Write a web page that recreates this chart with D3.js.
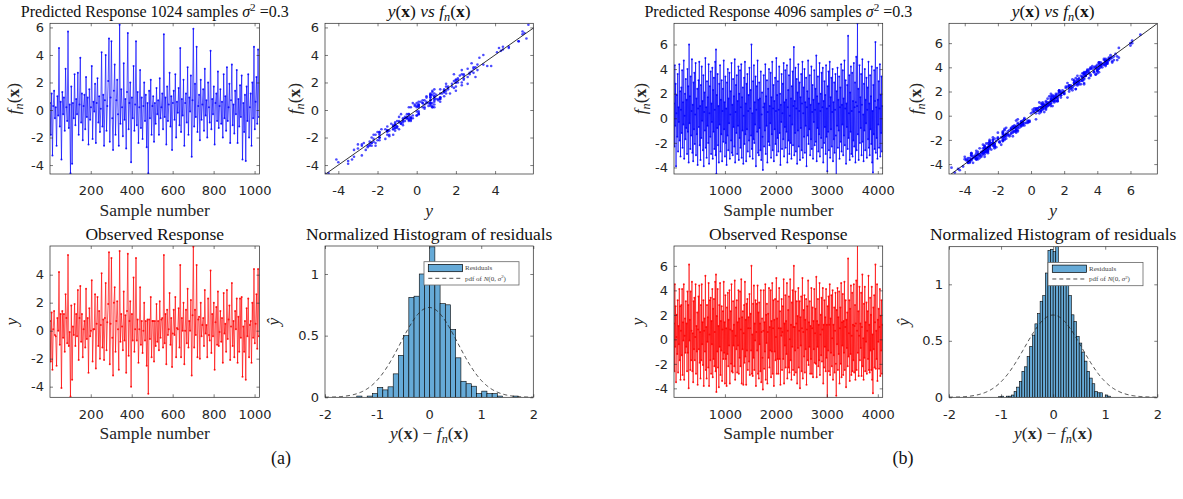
<!DOCTYPE html>
<html>
<head>
<meta charset="utf-8">
<script src="https://cdn.jsdelivr.net/npm/d3@7"></script>
<style>
  body { margin: 0; background: #fff; }
</style>
</head>
<body>
<script>
// noise variance used for the reference pdf
const sigma2 = 0.3;

// (a) 1024 samples, every 4th sample
const stepA = 4;
const predA = [
  0.5,-1.8,1.2,-3.3,0.3,1.4,-0.6,0.2,-2.6,1.0,-0.4,4.5,-1.2,0.6,-3.6,1.3,
  -0.3,0.9,-1.5,3.0,0.2,-0.8,5.7,-1.3,0.4,-4.6,1.7,-3.9,0.5,-0.6,2.6,-1.1,
  0.8,-0.3,2.7,-1.8,0.4,3.8,-0.9,1.2,-2.2,0.3,1.1,-1.4,2.4,-0.5,0.9,-2.5,
  1.5,-0.7,0.2,3.2,-2.1,0.6,-0.1,1.9,-2.4,0.5,2.3,-0.9,1.0,-1.6,0.1,4.2,
  -1.2,1.1,-2.6,0.7,4.0,-1.5,0.3,2.1,5.2,-2.3,0.9,5.0,-0.6,-2.9,1.4,3.3,
  -1.8,0.7,2.2,-0.3,-2.6,6.2,-1.0,1.5,0.2,-1.9,3.4,-0.7,0.8,-2.8,1.3,5.6,
  -1.4,0.5,2.0,-3.8,0.9,-0.6,3.2,-1.5,0.4,5.0,-1.1,1.3,-2.4,0.2,2.9,-1.3,
  0.9,-2.1,0.3,2.0,-0.8,1.1,-2.7,0.5,-4.6,1.4,-0.6,2.2,-1.8,0.3,1.0,-2.3,
  0.5,-1.0,1.6,-0.3,0.7,-1.8,2.3,-0.6,0.2,1.2,-1.4,5.5,-0.5,0.9,-2.5,1.7,
  -0.8,0.4,2.7,-1.2,1.0,-2.9,0.5,1.4,-0.7,2.6,-2.0,0.6,-0.2,1.6,-1.1,4.5,
  -1.6,0.8,-0.4,2.2,-2.6,0.5,1.2,-0.9,3.1,-1.8,0.9,-0.1,2.5,-3.4,0.7,5.9,
  -1.2,1.9,-0.5,4.6,-1.6,0.3,1.1,-2.2,2.2,-0.7,0.4,1.5,-1.5,3.0,-0.4,0.7,
  -2.0,2.0,0.2,-0.9,4.3,-1.4,0.8,-0.3,1.7,-2.5,0.5,1.2,-0.8,2.8,-1.3,0.3,
  1.5,-1.0,0.6,-2.0,2.6,-0.6,1.0,-1.5,3.1,-0.8,0.2,1.9,-2.4,0.7,3.3,-1.1,
  0.4,-1.7,1.4,-0.3,2.9,-2.4,0.8,-1.2,1.8,-0.5,2.5,-3.6,0.5,-1.6,1.1,-3.7,
  1.7,-0.8,2.6,-2.0,0.2,1.2,-2.6,2.0,-0.6,4.6,-1.4,0.6,2.4,-1.0,4.4,-0.5
];
// residuals y - f_n for the same samples
const resA = [
  0.2,-0.4,0.1,0.5,-0.2,0.0,0.3,-0.6,0.1,-0.1,0.4,-0.3,0.2,0.6,-0.5,0.1,
  -0.2,0.3,0.0,-0.4,0.7,-0.1,-0.3,0.2,-0.5,-0.1,0.1,0.4,-0.2,0.3,-0.7,0.0,
  0.4,-0.1,0.2,-0.3,0.5,-0.6,0.1,0.0,0.3,-0.2,-0.4,0.2,0.6,-0.1,0.0,-0.5,
  0.1,0.3,-0.2,0.4,-0.1,-0.5,0.2,0.7,-0.3,0.0,0.1,-0.2,0.4,-0.4,0.3,-0.1,
  0.0,-0.3,0.5,0.2,-0.6,0.1,0.3,-0.2,0.4,-0.1,-0.4,0.2,0.1,-0.3,0.6,-0.2,
  0.3,0.0,-0.1,0.4,-0.2,-0.5,0.2,-0.3,0.1,0.5,-0.6,0.0,0.3,-0.2,0.1,-0.1,
  -0.4,0.2,0.1,-0.2,0.3,-0.1,0.6,0.0,-0.3,0.2,0.4,-0.5,0.1,-0.1,0.2,0.3,
  -0.2,0.5,-0.3,0.0,0.1,-0.4,0.2,0.3,0.1,-0.6,0.0,0.2,-0.1,0.4,-0.3,0.1,
  0.2,-0.1,0.3,-0.5,0.0,0.4,-0.2,0.1,0.6,-0.3,0.2,-0.1,-0.4,0.3,0.1,-0.2,
  0.5,-0.3,0.0,0.2,-0.1,0.3,-0.7,0.1,0.4,-0.2,0.1,-0.4,0.3,0.0,-0.1,0.2,
  -0.3,0.1,0.4,-0.2,0.2,-0.5,0.3,0.0,-0.1,0.6,-0.2,0.1,-0.3,0.2,0.4,0.1,
  0.0,-0.4,0.2,0.1,-0.3,0.5,-0.1,0.2,-0.2,0.3,0.0,-0.6,0.4,-0.1,0.2,-0.3,
  0.1,0.3,-0.5,0.2,0.0,-0.2,0.4,-0.1,0.3,-0.3,0.1,0.5,-0.2,0.0,0.2,-0.4,
  -0.1,0.2,0.3,-0.3,0.1,0.4,-0.5,0.0,-0.2,0.2,0.6,-0.1,0.3,-0.4,0.1,0.0,
  0.3,-0.2,0.0,0.4,-0.6,0.1,0.2,-0.3,0.5,0.0,-0.1,0.3,-0.2,0.1,-0.4,0.2,
  -0.1,0.4,-0.3,0.1,0.2,-0.5,0.3,0.0,0.1,-0.2,0.5,-0.1,0.2,-0.3,0.0,0.1
];

// (b) 4096 samples, every 8th sample
const stepB = 8;
const predB = [
  1.2,-2.3,4.3,-0.6,2.8,-3.9,0.4,1.9,-1.5,3.6,-2.7,0.9,-0.3,4.4,-1.8,2.2,
  -3.1,0.7,2.5,-1.2,3.9,-2.4,1.3,-0.5,4.7,-3.3,0.2,2.0,-1.7,3.2,-0.8,1.5,
  -2.9,4.0,-1.1,2.6,-3.6,6.0,-0.4,1.8,-2.5,3.4,-1.4,0.6,4.8,-2.8,1.1,-3.5,
  2.9,-0.9,3.7,-2.1,0.3,4.5,-3.0,1.6,-1.3,2.4,-3.8,0.8,3.1,-0.7,4.6,-2.2,
  1.0,-3.4,2.7,-1.6,4.2,-0.2,1.4,-2.6,3.5,-3.9,0.5,2.1,-1.0,4.9,-2.4,0.9,
  -3.2,3.0,-0.6,1.7,-2.0,4.4,-3.7,0.4,2.6,-1.5,3.8,-2.9,1.2,-0.3,4.1,-3.3,
  2.3,-1.1,3.3,-2.5,0.7,4.6,-3.0,5.6,-4.5,1.9,-0.8,3.6,-2.2,1.0,-3.6,2.8,
  -0.5,4.3,-2.7,1.5,-1.3,3.1,-3.5,0.6,2.4,-1.9,4.7,-0.9,1.3,-3.1,3.4,-2.0,
  0.8,-3.8,2.9,-1.4,4.0,-2.6,1.6,-0.4,3.7,-3.3,0.3,2.2,-1.8,4.5,-2.8,1.1,
  -3.0,3.2,-0.7,1.8,-2.3,4.8,-3.6,0.5,2.7,-1.2,3.5,-2.9,1.4,-0.6,4.2,-3.4,
  2.0,-1.6,3.9,-2.4,0.9,4.4,-3.2,1.7,-1.0,2.5,-3.7,0.2,3.3,-2.1,4.6,-1.3,
  1.2,-3.5,2.8,-0.9,3.6,-2.7,0.6,1.9,-1.8,4.1,-3.1,0.8,2.3,-1.4,6.0,-2.5,
  0.4,-3.3,3.0,-1.7,4.3,-2.0,1.3,-0.5,3.4,-3.9,0.7,2.6,-1.1,4.7,-2.8,1.5,
  -3.0,2.9,-0.8,1.6,-2.6,3.8,-3.4,0.3,2.1,-1.5,-4.2,0.9,3.5,-2.3,1.2,-1.0,
  4.4,-2.9,1.8,-0.6,3.1,-3.6,0.5,2.4,-1.9,4.0,-2.2,1.0,-0.4,3.7,-3.2,1.7,
  -1.3,4.6,-2.6,0.8,2.7,-3.5,1.4,-0.9,3.3,-2.1,0.6,4.9,-3.0,1.9,-1.6,3.0,
  -2.7,0.7,4.2,-1.2,2.0,-3.8,1.1,-0.3,3.6,-2.5,0.4,2.8,-1.7,4.5,-3.1,1.3,
  -0.7,3.9,-2.4,1.5,-1.1,4.3,-3.6,0.9,2.3,-1.8,3.5,-2.9,0.2,4.8,-2.0,1.6,
  -3.3,2.6,-0.5,3.8,-2.2,1.0,5.8,-3.0,1.4,-1.2,4.1,-2.7,0.8,3.2,-3.7,2.1,
  -1.0,4.4,-2.3,0.6,2.9,-3.4,1.7,-0.8,3.6,-2.6,1.2,4.6,-3.2,0.4,2.5,-1.5,
  4.0,-2.8,1.3,-0.6,3.3,-3.9,0.9,2.2,-1.4,4.7,-2.1,1.6,-0.9,3.5,-3.0,1.1,
  -1.7,4.2,-2.5,0.5,2.7,-3.3,1.5,-0.3,3.9,-2.2,0.7,2.4,-1.9,5.1,-3.5,1.8,
  -0.8,3.4,-2.7,1.2,-1.3,4.5,-3.1,0.6,2.0,-1.6,3.7,-2.4,0.9,4.1,-3.6,1.4,
  -2.0,3.0,-0.7,1.9,-2.9,4.3,-1.5,0.8,-4.3,2.6,-1.1,3.8,-2.6,1.0,4.6,-3.2,
  1.7,-0.9,3.3,-2.3,0.5,4.0,-3.5,1.3,-1.7,2.9,-2.8,0.7,3.6,-1.4,-4.7,2.2,
  -0.6,4.1,-2.4,1.5,-1.0,3.4,-3.3,0.9,2.5,-1.9,4.4,-2.7,1.1,-0.5,3.9,-3.0,
  1.6,-1.4,4.7,-2.2,0.8,3.1,-3.7,1.2,-0.7,2.7,-2.5,6.7,-1.6,0.4,3.5,-3.4,
  2.1,-1.1,4.2,-2.9,0.6,3.7,-3.1,1.4,-1.8,4.5,-2.3,0.9,2.9,-3.6,1.3,5.0,
  -2.6,1.0,7.7,-1.3,2.4,-3.4,0.5,4.3,-2.0,1.7,-0.8,3.6,-3.0,1.1,4.8,-1.9,
  0.3,-3.5,2.8,-1.0,4.0,-2.6,1.5,-0.4,3.3,-3.2,0.7,2.5,-1.7,4.6,-2.4,1.2,
  -3.0,3.5,-0.9,1.8,-2.1,4.2,-3.6,0.6,-4.4,2.7,-1.3,3.9,-2.5,1.4,6.2,-2.8,
  0.9,-1.6,4.1,-3.3,1.5,-0.5,3.0,-2.4,0.8,4.4,-3.1,1.9,-1.2,3.4,-2.7,1.0
];
const resB = [
  0.1,-0.3,0.2,0.0,-0.1,0.4,-0.2,0.1,0.3,-0.4,0.0,0.2,-0.1,-0.3,0.1,0.5,
  -0.2,0.0,0.3,-0.1,0.2,-0.5,0.1,0.4,-0.2,0.0,0.1,-0.3,0.6,-0.1,0.2,-0.2,
  0.3,-0.1,0.0,0.2,-0.4,0.1,0.3,-0.2,0.0,0.5,-0.3,0.1,-0.1,0.2,-0.6,0.0,
  0.2,0.1,-0.3,0.4,-0.1,0.0,0.2,-0.5,0.3,-0.2,0.1,0.0,0.4,-0.1,-0.2,0.3,
  -0.4,0.2,0.1,-0.1,0.3,-0.2,0.0,0.5,-0.3,0.1,0.2,-0.4,0.0,0.3,-0.1,0.1,
  0.0,-0.2,0.4,0.1,-0.3,0.2,-0.1,0.0,0.6,-0.2,-0.4,0.1,0.3,-0.1,0.0,0.2,
  0.2,-0.5,0.0,0.3,-0.1,0.1,0.4,-0.3,0.2,0.0,-0.2,0.5,-0.1,0.1,-0.3,0.0,
  -0.1,0.3,-0.2,0.0,0.4,-0.4,0.1,0.2,-0.1,0.3,0.0,-0.2,0.1,-0.5,0.2,0.4,
  0.1,0.0,-0.3,0.2,-0.2,0.4,0.0,-0.1,0.3,-0.3,0.5,0.1,-0.2,0.0,0.2,-0.4,
  0.3,-0.1,0.2,-0.6,0.1,0.0,0.3,-0.2,-0.1,0.4,-0.3,0.2,0.0,0.1,-0.2,0.6,
  -0.3,0.1,0.0,0.2,-0.1,0.5,-0.4,0.1,0.2,-0.2,0.0,0.3,-0.5,0.2,0.1,-0.1,
  0.4,-0.2,0.1,0.0,-0.3,0.2,0.3,-0.1,0.0,-0.4,0.2,0.1,-0.2,0.5,0.0,-0.3,
  0.0,0.3,-0.1,0.2,0.1,-0.5,0.0,0.4,-0.2,0.1,-0.1,0.3,0.2,-0.3,0.0,0.7,
  -0.2,0.1,0.4,-0.3,0.0,0.2,-0.1,0.3,-0.4,0.0,0.1,-0.2,0.5,-0.1,0.2,0.0,
  0.1,-0.4,0.2,0.3,-0.2,0.0,0.1,-0.3,0.4,0.2,-0.1,0.0,-0.5,0.3,0.1,-0.2,
  0.3,0.0,-0.2,0.1,0.5,-0.3,0.2,-0.1,0.0,0.4,-0.4,0.1,0.2,-0.2,0.0,0.1,
  -0.1,0.2,0.0,-0.4,0.3,0.1,-0.2,0.6,-0.3,0.0,0.2,-0.1,0.1,0.4,-0.5,0.0,
  0.2,-0.3,0.1,0.0,-0.1,0.3,0.4,-0.2,0.1,-0.5,0.0,0.2,-0.2,0.1,0.3,-0.4,
  0.0,0.4,-0.1,0.2,-0.3,0.0,0.2,0.1,-0.4,0.3,-0.2,0.0,0.5,-0.1,0.1,-0.2,
  0.3,-0.2,0.0,0.1,0.2,-0.6,0.1,0.3,-0.1,0.0,-0.3,0.4,0.0,0.2,-0.1,0.1,
  -0.4,0.1,0.3,-0.2,0.0,0.2,-0.1,0.5,-0.3,0.1,0.0,-0.2,0.3,-0.4,0.2,0.0,
  0.1,0.0,-0.3,0.4,-0.1,0.2,0.0,-0.5,0.2,0.3,-0.2,0.1,-0.1,0.0,0.4,-0.3,
  0.2,-0.1,0.5,0.0,-0.4,0.1,0.2,-0.2,0.0,0.3,-0.3,0.6,-0.1,0.1,0.0,-0.2,
  -0.3,0.2,0.1,-0.1,0.3,-0.2,0.0,0.4,-0.5,0.1,0.2,-0.3,0.0,0.2,-0.1,0.3,
  0.0,-0.2,0.3,0.1,-0.4,0.0,0.2,-0.1,0.4,-0.3,0.1,0.0,0.2,-0.6,0.1,0.2,
  0.2,0.1,-0.1,0.3,-0.2,0.5,-0.3,0.0,0.1,-0.1,0.2,-0.4,0.3,0.0,-0.2,0.1,
  -0.1,0.3,0.0,-0.3,0.2,0.1,-0.2,0.4,0.0,-0.5,0.3,-0.1,0.2,0.1,-0.3,0.0,
  0.4,-0.1,0.2,0.0,-0.3,0.1,0.5,-0.2,0.1,0.0,-0.4,0.2,-0.1,0.3,0.0,-0.2,
  0.1,-0.3,0.0,0.2,-0.1,0.4,-0.2,0.0,0.3,-0.4,0.1,0.2,0.0,-0.1,0.5,-0.3,
  -0.2,0.2,0.1,-0.5,0.3,0.0,-0.1,0.2,-0.3,0.4,0.0,-0.2,0.1,0.6,-0.1,0.0,
  0.3,-0.1,0.0,0.2,-0.4,0.1,0.3,-0.2,0.0,-0.1,0.5,-0.3,0.2,0.0,-0.1,0.4,
  -0.2,0.0,0.4,-0.1,0.1,0.3,-0.5,0.0,0.2,-0.3,0.1,0.0,0.3,-0.2,-0.1,0.2
];

// normalized histograms of residuals (bar heights)
const histStartA = -1.39, histWidthA = 0.1;
const histA = [0.01,0,0.01,0.03,0.08,0.06,0.085,0.19,0.34,0.5,0.81,0.82,1.0,0.97,1.22,
  0.95,0.76,0.75,0.55,0.32,0.13,0.11,0.09,0.03,0.05,0.03,0.03,0.01,0,0,0.01];
const histStartB = -1.05, histWidthB = 0.05;
const histB = [0.005,0.01,0,0.01,0.01,0.02,0.05,0.09,0.14,0.23,0.27,0.36,0.45,0.55,0.65,0.74,
  0.85,0.9,1.1,1.3,1.31,1.29,1.333,1.15,1.1,1.05,1.0,0.9,0.73,0.67,0.54,0.48,0.4,0.32,
  0.23,0.17,0.12,0.05,0.04,0.04,0,0.02,0.01];

// tick values
const ticksSampleA = [200, 400, 600, 800, 1000];
const ticksSampleB = [1000, 2000, 3000, 4000];
const ticksValA = [-4, -2, 0, 2, 4, 6];
const ticksValA3 = [-4, -2, 0, 2, 4];
const ticksScatterXA = [-4, -2, 0, 2, 4];
const ticksValB = [-4, -2, 0, 2, 4, 6];
const ticksResid = [-2, -1, 0, 1, 2];
const ticksDensity = [0, 0.5, 1];

const W = 1183, H = 499;
const axisColor = '#262626';
const serif = "'Liberation Serif', 'DejaVu Serif', serif";
const histFill = '#66aad7';

const svg = d3.select('body').append('svg')
  .attr('width', W).attr('height', H)
  .style('font-family', serif);
const defs = svg.append('defs');
let clipCount = 0;

function styleAxis(sel) {
  sel.select('.domain').remove();
  sel.attr('font-family', "'DejaVu Sans', sans-serif").attr('font-size', 13);
  sel.selectAll('.tick line').attr('stroke', axisColor).attr('stroke-width', 0.6);
  sel.selectAll('.tick text').attr('fill', axisColor);
}

// math-ish label pieces
function fnx(t) {
  t.append('tspan').attr('font-style', 'italic').text('f');
  t.append('tspan').attr('font-style', 'italic').attr('font-size', '70%').attr('dy', 4).text('n');
  t.append('tspan').attr('dy', -4).text('(');
  t.append('tspan').attr('font-weight', 'bold').text('x');
  t.append('tspan').text(')');
}
function yx(t) {
  t.append('tspan').attr('font-style', 'italic').text('y');
  t.append('tspan').text('(');
  t.append('tspan').attr('font-weight', 'bold').text('x');
  t.append('tspan').text(')');
}
function sigmaTitle(n) {
  return t => {
    t.attr('font-size', 16);
    t.append('tspan').text(`Predicted Response ${n} samples `);
    t.append('tspan').attr('font-style', 'italic').text('σ');
    t.append('tspan').attr('font-size', '70%').attr('dy', -6).text('2');
    t.append('tspan').attr('dy', 6).text(' =' + sigma2);
  };
}
const plain = s => t => t.text(s);
const italic = s => t => t.append('tspan').attr('font-style', 'italic').text(s);
const vsTitle = t => { yx(t); t.append('tspan').attr('font-style', 'italic').text(' vs '); fnx(t); };
const residLabel = t => { yx(t); t.append('tspan').text(' − '); fnx(t); };

function panel(o) {
  const g = svg.append('g');
  const x = d3.scaleLinear().domain(o.xDomain).range([o.left, o.left + o.w]);
  const y = d3.scaleLinear().domain(o.yDomain).range([o.top + o.h, o.top]);
  const id = 'clip' + (clipCount++);
  defs.append('clipPath').attr('id', id).append('rect')
    .attr('x', o.left).attr('y', o.top).attr('width', o.w).attr('height', o.h);
  g.append('rect').attr('x', o.left).attr('y', o.top).attr('width', o.w).attr('height', o.h)
    .attr('fill', '#fff');
  const plot = g.append('g').attr('clip-path', `url(#${id})`);
  o.draw(plot, x, y);

  const fmt = d => String(d);
  g.append('g').attr('transform', `translate(0,${o.top + o.h})`)
    .call(d3.axisBottom(x).tickValues(o.xTicks).tickSizeInner(-3).tickSizeOuter(0).tickPadding(12).tickFormat(fmt))
    .call(styleAxis);
  g.append('g').attr('transform', `translate(0,${o.top})`)
    .call(d3.axisTop(x).tickValues(o.xTicks).tickSizeInner(-3).tickSizeOuter(0).tickFormat(''))
    .call(styleAxis);
  g.append('g').attr('transform', `translate(${o.left},0)`)
    .call(d3.axisLeft(y).tickValues(o.yTicks).tickSizeInner(-3).tickSizeOuter(0).tickPadding(6).tickFormat(fmt))
    .call(styleAxis);
  g.append('g').attr('transform', `translate(${o.left + o.w},0)`)
    .call(d3.axisRight(y).tickValues(o.yTicks).tickSizeInner(-3).tickSizeOuter(0).tickFormat(''))
    .call(styleAxis);
  g.append('rect').attr('x', o.left).attr('y', o.top).attr('width', o.w).attr('height', o.h)
    .attr('fill', 'none').attr('stroke', axisColor).attr('stroke-width', 0.7);

  if (o.legend) o.legend(g);

  const ts = 17.5;
  g.append('text').attr('x', o.left + o.w / 2).attr('y', o.top - 6.5)
    .attr('text-anchor', 'middle').attr('font-size', ts).attr('fill', '#111')
    .call(o.title);
  g.append('text').attr('x', o.left + o.w / 2).attr('y', o.top + o.h + 42)
    .attr('text-anchor', 'middle').attr('font-size', ts).attr('fill', '#262626')
    .call(o.xlabel);
  g.append('text')
    .attr('transform', `translate(${o.left - o.ylabelOff},${o.top + o.h / 2}) rotate(-90)`)
    .attr('text-anchor', 'middle').attr('font-size', ts).attr('fill', '#262626')
    .call(o.ylabel);
}

function seriesDraw(pred, res, step, color, which) {
  return (plot, x, y) => {
    const pts = pred.map((v, i) => ({ s: 1 + i * step, v: which === 'obs' ? v + res[i] : v }));
    plot.append('path').datum(pts)
      .attr('d', d3.line().x(d => x(d.s)).y(d => y(d.v)))
      .attr('fill', 'none').attr('stroke', color).attr('stroke-opacity', 0.68).attr('stroke-width', 0.95);
    plot.append('g').selectAll('circle').data(pts).join('circle')
      .attr('cx', d => x(d.s)).attr('cy', d => y(d.v)).attr('r', 1)
      .attr('fill', color).attr('fill-opacity', 0.85);
  };
}

function scatterDraw(pred, res, r) {
  return (plot, x, y) => {
    const pts = pred.map((v, i) => ({ obs: v + res[i], f: v }));
    plot.append('g').selectAll('circle').data(pts).join('circle')
      .attr('cx', d => x(d.obs)).attr('cy', d => y(d.f)).attr('r', r)
      .attr('fill', '#0000ff').attr('fill-opacity', 0.7);
    const lo = Math.min(x.domain()[0], y.domain()[0]), hi = Math.max(x.domain()[1], y.domain()[1]);
    plot.append('line').attr('x1', x(lo)).attr('y1', y(lo)).attr('x2', x(hi)).attr('y2', y(hi))
      .attr('stroke', '#000').attr('stroke-width', 0.8);
  };
}

function histDraw(heights, start, width) {
  return (plot, x, y) => {
    const bins = heights.map((h, i) => ({ x0: start + i * width, x1: start + (i + 1) * width, h }))
      .filter(b => b.h > 0);
    plot.append('g').selectAll('rect').data(bins).join('rect')
      .attr('x', d => x(d.x0)).attr('width', d => x(d.x1) - x(d.x0))
      .attr('y', d => y(d.h)).attr('height', d => y(0) - y(d.h))
      .attr('fill', histFill).attr('stroke', '#000').attr('stroke-width', 0.6);
    const xs = d3.range(-2, 2.0001, 0.02);
    const pdf = xs.map(v => ({ v, p: Math.exp(-v * v / (2 * sigma2)) / Math.sqrt(2 * Math.PI * sigma2) }));
    plot.append('path').datum(pdf)
      .attr('d', d3.line().x(d => x(d.v)).y(d => y(d.p)))
      .attr('fill', 'none').attr('stroke', '#222').attr('stroke-width', 0.8).attr('stroke-dasharray', '4,3');
  };
}

function histLegend(o) {
  return g => {
    const lx = o.left + o.w - 14.3 - 95, ly = o.top + 15.7;
    const L = g.append('g').attr('transform', `translate(${lx},${ly})`);
    L.append('rect').attr('width', 95).attr('height', 23.3).attr('fill', '#fff')
      .attr('stroke', '#666').attr('stroke-width', 0.8);
    L.append('rect').attr('x', 4.3).attr('y', 2.7).attr('width', 34.3).attr('height', 7.3)
      .attr('fill', histFill).attr('stroke', '#000').attr('stroke-width', 0.7);
    L.append('line').attr('x1', 4.3).attr('x2', 38.6).attr('y1', 16.6).attr('y2', 16.6)
      .attr('stroke', '#222').attr('stroke-width', 0.8).attr('stroke-dasharray', '4,3');
    L.append('text').attr('x', 41).attr('y', 8.5).attr('font-size', 7).attr('fill', '#444').text('Residuals');
    const t = L.append('text').attr('x', 41).attr('y', 19).attr('font-size', 7).attr('fill', '#444');
    t.append('tspan').text('pdf of ');
    t.append('tspan').attr('font-style', 'italic').text('N');
    t.append('tspan').text('(0, ');
    t.append('tspan').attr('font-style', 'italic').text('σ');
    t.append('tspan').attr('font-size', '70%').attr('dy', -2.5).text('2');
    t.append('tspan').attr('dy', 2.5).text(')');
  };
}

// ---------- (a) ----------
panel({
  left: 50, top: 23.3, w: 209.5, h: 150.7,
  xDomain: [1, 1024], yDomain: [-4.65, 6.3],
  xTicks: ticksSampleA, yTicks: ticksValA,
  title: sigmaTitle(1024), xlabel: plain('Sample number'), ylabel: fnx, ylabelOff: 31,
  draw: seriesDraw(predA, resA, stepA, '#0000ff', 'pred')
});
panel({
  left: 325, top: 23.3, w: 208.3, h: 150.7,
  xDomain: [-4.68, 5.95], yDomain: [-4.65, 6.3],
  xTicks: ticksScatterXA, yTicks: ticksValA,
  title: vsTitle, xlabel: italic('y'), ylabel: fnx, ylabelOff: 25,
  draw: scatterDraw(predA, resA, 1.3)
});
panel({
  left: 50, top: 246, w: 209.5, h: 151.3,
  xDomain: [1, 1024], yDomain: [-4.76, 6.05],
  xTicks: ticksSampleA, yTicks: ticksValA3,
  title: plain('Observed Response'), xlabel: plain('Sample number'), ylabel: italic('y'), ylabelOff: 33,
  draw: seriesDraw(predA, resA, stepA, '#ff0000', 'obs')
});
const histAOpts = {
  left: 325, top: 246, w: 208.3, h: 151.3,
  xDomain: [-2, 2], yDomain: [0, 1.227],
  xTicks: ticksResid, yTicks: ticksDensity,
  title: plain('Normalized Histogram of residuals'), xlabel: residLabel, ylabel: italic('ŷ'), ylabelOff: 46,
  draw: histDraw(histA, histStartA, histWidthA)
};
histAOpts.legend = histLegend(histAOpts);
panel(histAOpts);

// ---------- (b) ----------
panel({
  left: 674, top: 23.3, w: 208.7, h: 150.7,
  xDomain: [1, 4096], yDomain: [-4.53, 7.72],
  xTicks: ticksSampleB, yTicks: ticksValB,
  title: sigmaTitle(4096), xlabel: plain('Sample number'), ylabel: fnx, ylabelOff: 28,
  draw: seriesDraw(predB, resB, stepB, '#0000ff', 'pred')
});
panel({
  left: 949, top: 23.3, w: 208.3, h: 150.7,
  xDomain: [-4.95, 7.62], yDomain: [-4.82, 7.64],
  xTicks: ticksValB, yTicks: ticksValB,
  title: vsTitle, xlabel: italic('y'), ylabel: fnx, ylabelOff: 28,
  draw: scatterDraw(predB, resB, 1.4)
});
panel({
  left: 674, top: 246, w: 208.7, h: 151.3,
  xDomain: [1, 4096], yDomain: [-4.73, 7.62],
  xTicks: ticksSampleB, yTicks: ticksValB,
  title: plain('Observed Response'), xlabel: plain('Sample number'), ylabel: italic('y'), ylabelOff: 31,
  draw: seriesDraw(predB, resB, stepB, '#ff0000', 'obs')
});
const histBOpts = {
  left: 949, top: 246.7, w: 208.3, h: 150.6,
  xDomain: [-2, 2], yDomain: [0, 1.333],
  xTicks: ticksResid, yTicks: ticksDensity,
  title: plain('Normalized Histogram of residuals'), xlabel: residLabel, ylabel: italic('ŷ'), ylabelOff: 40,
  draw: histDraw(histB, histStartB, histWidthB)
};
histBOpts.legend = histLegend(histBOpts);
panel(histBOpts);

// sub-figure captions
svg.append('text').attr('x', 281).attr('y', 464).attr('text-anchor', 'middle')
  .attr('font-size', 18).attr('fill', '#111').text('(a)');
svg.append('text').attr('x', 903).attr('y', 464).attr('text-anchor', 'middle')
  .attr('font-size', 18).attr('fill', '#111').text('(b)');
</script>
</body>
</html>
